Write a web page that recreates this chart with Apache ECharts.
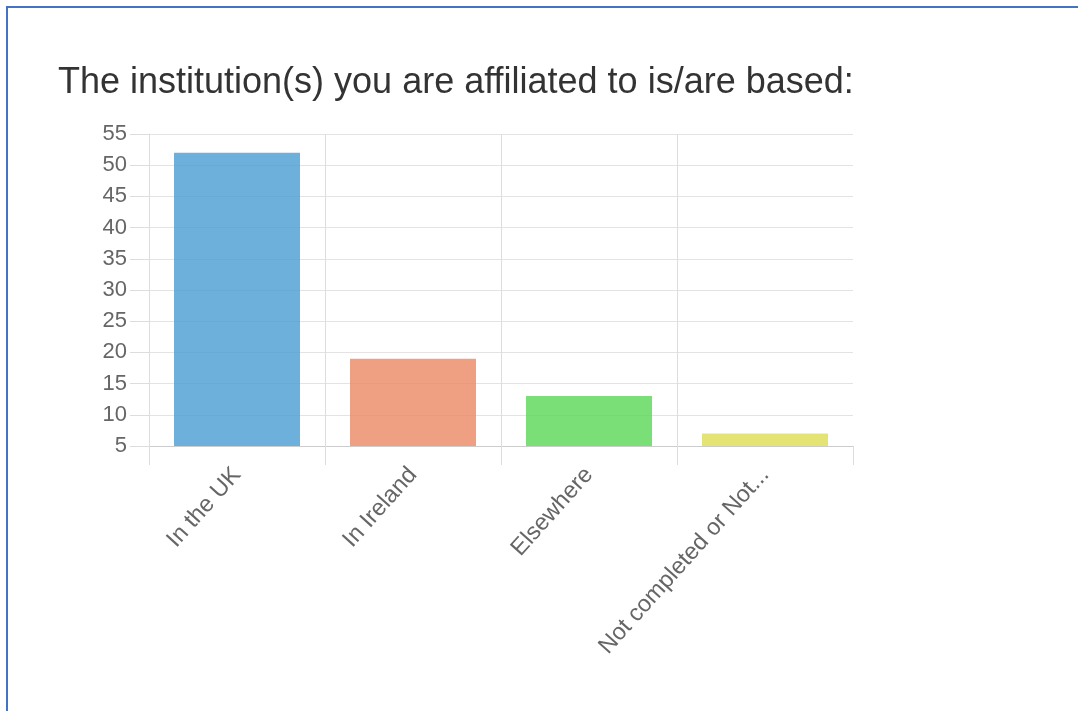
<!DOCTYPE html>
<html>
<head>
<meta charset="utf-8">
<script src="https://cdn.jsdelivr.net/npm/echarts@6/dist/echarts.min.js"></script>
<style>
  html, body { margin: 0; padding: 0; background: #fff; }
  #frame { position: absolute; left: 6px; top: 6px; width: 1100px; height: 720px;
           border-left: 2px solid #4472C4; border-top: 2px solid #4472C4; }
  #chart { position: absolute; left: 0; top: 0; width: 1078px; height: 711px; }
</style>
</head>
<body>
<div id="frame"></div>
<div id="chart"></div>
<script>
const titleText = 'The institution(s) you are affiliated to is/are based:';
const categories = ['In the UK', 'In Ireland', 'Elsewhere', 'Not completed or Not...'];
const values = [52, 19, 13, 7];
const barColors = ['rgba(73,156,211,0.8)', 'rgba(236,136,99,0.8)', 'rgba(89,215,84,0.8)', 'rgba(221,221,81,0.8)'];
const yTicks = { min: 5, max: 55, interval: 5 };

const chart = echarts.init(document.getElementById('chart'), null, { renderer: 'canvas' });
const font = 'Liberation Sans, Arial, Helvetica, sans-serif';
chart.setOption({
  backgroundColor: 'transparent',
  animation: false,
  title: {
    text: titleText,
    left: 53, top: 60,
    textStyle: { fontFamily: font, fontSize: 36, fontWeight: 'normal', color: '#333' }
  },
  grid: { left: 149, right: 225, top: 134, bottom: 265, containLabel: false },
  xAxis: {
    type: 'category',
    data: categories,
    boundaryGap: true,
    axisLine: { show: true, lineStyle: { color: '#ccc', width: 1 } },
    axisTick: { show: true, length: 19, lineStyle: { color: '#ddd' } },
    splitLine: { show: true, showMaxLine: false, lineStyle: { color: '#ddd', width: 1 } },
    axisLabel: { rotate: 48, margin: 25, fontFamily: font, fontSize: 23.5, color: '#666', interval: 0 }
  },
  yAxis: {
    type: 'value',
    min: yTicks.min, max: yTicks.max, interval: yTicks.interval,
    axisLine: { show: true, lineStyle: { color: '#ddd', width: 1 } },
    axisTick: { show: true, length: 19, lineStyle: { color: '#ddd' } },
    splitLine: { show: true, lineStyle: { color: '#e3e3e3', width: 1 } },
    axisLabel: { margin: 22, fontFamily: font, fontSize: 22, color: '#666' }
  },
  series: [{
    type: 'bar',
    data: values.map((v, i) => ({ value: v, itemStyle: { color: barColors[i] } })),
    barWidth: 126,
    clip: true,
    itemStyle: { borderWidth: 0 }
  }]
});
</script>
</body>
</html>
